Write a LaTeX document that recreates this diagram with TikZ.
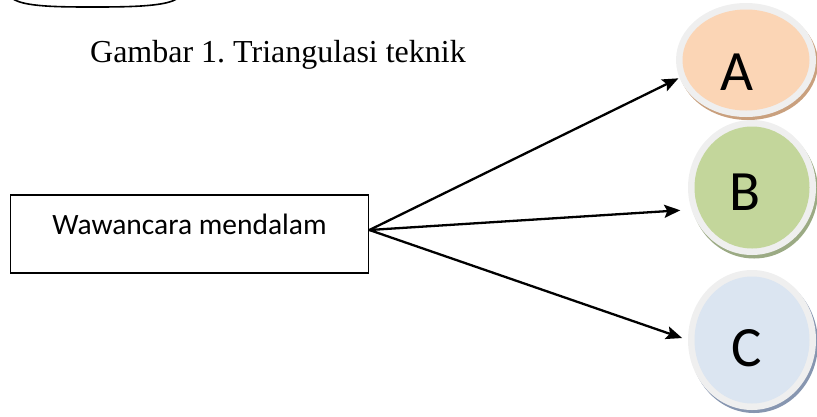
\documentclass[tikz,border=0pt]{standalone}
\usepackage{fontspec}
\setmainfont{Liberation Serif}
\newfontfamily\calib{Carlito}
\usetikzlibrary{shapes.geometric,arrows.meta}
\definecolor{ringgray}{HTML}{EFEFEF}
\definecolor{fillA}{HTML}{FBD5B5}
\definecolor{shA}{HTML}{C9A07E}
\definecolor{fillB}{HTML}{C3D69B}
\definecolor{shB}{HTML}{9BAA84}
\definecolor{fillC}{HTML}{DBE5F1}
\definecolor{shC}{HTML}{8796B0}
\begin{document}
\frenchspacing
\begin{tikzpicture}[x=1pt,y=-1pt,
  ring/.style={ellipse, fill=ringgray, inner sep=0pt},
  shadowell/.style={ellipse, inner sep=0pt},
  core/.style={ellipse, inner sep=0pt},
  letter/.style={font=\calib\fontsize{57}{57}\selectfont},
  conn/.style={line width=2.3pt, -{Stealth[length=16pt,width=13pt,inset=3pt]}},
  boxstyle/.style={draw, line width=1.8pt, inner sep=0pt, minimum width=358pt, minimum height=78pt}]
\useasboundingbox (0,0) rectangle (817,416);
% partial shape at top left
\draw[line width=1.6pt] (12,-2) .. controls (22,7) and (60,7) .. (95,7) .. controls (135,7) and (168,6) .. (178,-2);
% caption
\node[font=\fontsize{32}{32}\selectfont, anchor=base, inner sep=0pt] (cap) at (278,62) {Gambar 1. Triangulasi teknik};
% box
\node[boxstyle] (box) at (189.5,234) {};
\node[font=\calib\fontsize{29.5}{30}\selectfont, anchor=base, inner sep=0pt] (boxtext) at (189.5,234) {Wawancara mendalam};
\coordinate (hub) at ([yshift=4pt]box.east);
% A
\node[shadowell, fill=shA, minimum width=140pt, minimum height=114pt] (Ash) at (748,63) {};
\node[ring, minimum width=140pt, minimum height=114pt] (A) at (746,60) {};
\node[core, fill=fillA, minimum width=127pt, minimum height=101pt,
  label={[letter, xshift=-9pt, yshift=-12pt]center:A}] (Ain) at (746,60) {};
% B
\node[shadowell, fill=shB, minimum width=128pt, minimum height=135pt] (Bsh) at (754,191) {};
\node[ring, minimum width=128pt, minimum height=135pt] (B) at (752,187.5) {};
\node[core, fill=fillB, minimum width=115pt, minimum height=122pt,
  label={[letter, xshift=-7pt, yshift=-5pt]center:B}] (Bin) at (752,187.5) {};
% C
\node[shadowell, fill=shC, minimum width=128pt, minimum height=140pt] (Csh) at (754,343) {};
\node[ring, minimum width=128pt, minimum height=140pt] (C) at (752,340) {};
\node[core, fill=fillC, minimum width=115pt, minimum height=127pt,
  label={[letter, xshift=-5pt, yshift=-8pt]center:C}] (Cin) at (752,340) {};
% connectors
\draw[conn, shorten >=1pt] (hub) -- (A.195);
\draw[conn, shorten >=11pt] (hub) -- (B.200);
\draw[conn, shorten >=6pt] (hub) -- (C.180);
\end{tikzpicture}
\end{document}
